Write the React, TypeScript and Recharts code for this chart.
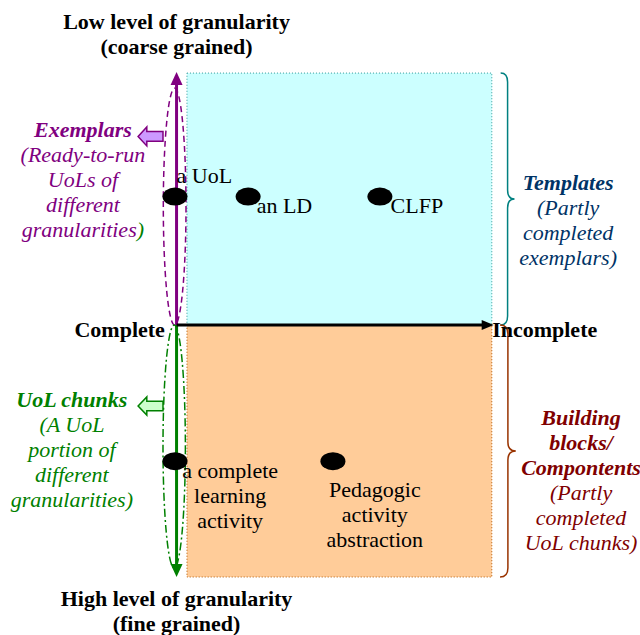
import React from 'react';
import { ScatterChart, Scatter, XAxis, YAxis, ReferenceArea, ReferenceLine } from 'recharts';

// x = completeness (0 complete -> 100 incomplete), y = granularity (+100 coarse, -100 fine)
const X_DOMAIN: [number, number] = [-56, 147];
const Y_DOMAIN: [number, number] = [-123, 129];

const pointNames = ['a UoL', 'an LD', 'CLFP', 'a complete learning activity', 'Pedagogic activity abstraction'];
const pointCompleteness = [-0.5, 22.7, 64.5, -0.5, 49.6];
const pointGranularity = [51, 51, 51, -54, -54];

const titleTop = ['Low level of granularity', '(coarse grained)'];
const titleBottom = ['High level of granularity', '(fine grained)'];
const exemplarText = ['Exemplars', '(Ready-to-run', 'UoLs of', 'different', 'granularities)'];
const chunkText = ['UoL chunks', '(A UoL', 'portion of', 'different', 'granularities)'];
const templateText = ['Templates', '(Partly', 'completed', 'exemplars)'];
const componentText = ['Building', 'blocks/', 'Compontents', '(Partly', 'completed', 'UoL chunks)'];
const pointLabelLines = [['a UoL'], ['an LD'], ['CLFP'], ['a complete', 'learning', 'activity'], ['Pedagogic', 'activity', 'abstraction']];

const FONT = 'Liberation Serif';
const LINE = 25;

type Note = {
  lines: string[];
  x: number;
  y: number;
  anchor: 'start' | 'middle' | 'end';
  color: string;
  bold: number;
  italic?: boolean;
  tailColor?: string;
};

const notes: Note[] = [
  { lines: titleTop, x: 0, y: 117.5, anchor: 'middle', color: '#000', bold: 2 },
  { lines: titleBottom, x: 0, y: -111.5, anchor: 'middle', color: '#000', bold: 2 },
  { lines: ['Complete'], x: -3.7, y: -4.7, anchor: 'end', color: '#000', bold: 1 },
  { lines: ['Incomplete'], x: 100.1, y: -4.7, anchor: 'start', color: '#000', bold: 1 },
  { lines: exemplarText, x: -29.7, y: 74.6, anchor: 'middle', color: '#800080', bold: 1, italic: true, tailColor: '#008000' },
  { lines: chunkText, x: -33.2, y: -32.5, anchor: 'middle', color: '#008000', bold: 1, italic: true },
  { lines: templateText, x: 124.2, y: 53.6, anchor: 'middle', color: '#003366', bold: 1, italic: true },
  { lines: componentText, x: 128.3, y: -39.6, anchor: 'middle', color: '#800000', bold: 3, italic: true },
  { lines: pointLabelLines[0], x: 0, y: 56.4, anchor: 'start', color: '#000', bold: 0 },
  { lines: pointLabelLines[1], x: 25.4, y: 44.5, anchor: 'start', color: '#000', bold: 0 },
  { lines: pointLabelLines[2], x: 67.9, y: 44.5, anchor: 'start', color: '#000', bold: 0 },
  { lines: pointLabelLines[3], x: 17, y: -60.7, anchor: 'middle', color: '#000', bold: 0 },
  { lines: pointLabelLines[4], x: 62.9, y: -68.2, anchor: 'middle', color: '#000', bold: 0 },
];

const points = pointNames.map((name, i) => ({ name, x: pointCompleteness[i], y: pointGranularity[i] }));
const noteData = notes.map((n) => ({ x: n.x, y: n.y, note: n }));

const renderNote = (props: any) => {
  const { cx, cy, payload } = props;
  const n: Note = payload.note;
  return (
    <text x={cx} y={cy} textAnchor={n.anchor} fontFamily={FONT} fontSize={22} fill={n.color} fontStyle={n.italic ? 'italic' : 'normal'}>
      {n.lines.map((line, i) => {
        const last = i === n.lines.length - 1 && n.tailColor;
        return (
          <tspan key={i} x={cx} dy={i === 0 ? 0 : LINE} fontWeight={i < n.bold ? 'bold' : 'normal'}>
            {last ? line.slice(0, -1) : line}
            {last ? <tspan fill={n.tailColor}>{line.slice(-1)}</tspan> : null}
          </tspan>
        );
      })}
    </text>
  );
};

const renderDot = (props: any) => <ellipse cx={props.cx} cy={props.cy} rx={12.5} ry={9} fill="#000" />;

const arrowShape = (color: string, width: number, head: number, half: number) => (p: any) => {
  const { x1, y1, x2, y2 } = p;
  const len = Math.hypot(x2 - x1, y2 - y1) || 1;
  const ux = (x2 - x1) / len;
  const uy = (y2 - y1) / len;
  const bx = x2 - ux * head;
  const by = y2 - uy * head;
  return (
    <g>
      <line x1={x1} y1={y1} x2={bx + ux} y2={by + uy} stroke={color} strokeWidth={width} />
      <polygon points={`${x2},${y2} ${bx - uy * half},${by + ux * half} ${bx + uy * half},${by - ux * half}`} fill={color} />
    </g>
  );
};

const ellipseShape = (color: string, dash: string) => (p: any) => (
  <ellipse cx={p.x + p.width / 2} cy={p.y + p.height / 2} rx={p.width / 2} ry={p.height / 2} fill="none" stroke={color} strokeWidth={1.5} strokeDasharray={dash} />
);

const braceShape = (color: string) => (p: any) => {
  const { x, y, width: w, height: h } = p;
  const mx = x + w * 0.5;
  const my = y + h / 2;
  const r = 9;
  const d = `M${x},${y} Q${mx},${y} ${mx},${y + r} L${mx},${my - r} Q${mx},${my} ${x + w},${my} Q${mx},${my} ${mx},${my + r} L${mx},${y + h - r} Q${mx},${y + h} ${x},${y + h}`;
  return <path d={d} fill="none" stroke={color} strokeWidth={1.5} />;
};

const blockArrowShape = (stroke: string, fill: string) => (p: any) => {
  const { x, y, width: w, height: h } = p;
  const hx = x + w * 0.35;
  const pts = [
    [x, y + h / 2], [hx, y], [hx, y + h * 0.24], [x + w, y + h * 0.24],
    [x + w, y + h * 0.76], [hx, y + h * 0.76], [hx, y + h],
  ];
  return <polygon points={pts.map((q) => q.join(',')).join(' ')} fill={fill} stroke={stroke} strokeWidth={1.5} />;
};

export default function App() {
  return (
    <div style={{ position: 'absolute', left: 0, top: 0, background: '#fff' }}>
      <ScatterChart width={640} height={635} margin={{ top: 0, right: 0, bottom: 0, left: 0 }}>
        <XAxis type="number" dataKey="x" domain={X_DOMAIN} hide />
        <YAxis type="number" dataKey="y" domain={Y_DOMAIN} hide />

        <ReferenceArea x1={3.3} x2={100} y1={0} y2={100} fill="#CCFFFF" fillOpacity={1} stroke="#339999" strokeDasharray="1 2" />
        <ReferenceArea x1={3.3} x2={100} y1={-100} y2={0} fill="#FFCC99" fillOpacity={1} stroke="#B35900" strokeDasharray="1 2" />

        <ReferenceArea x1={-4.2} x2={3.0} y1={0} y2={94} shape={ellipseShape('#800080', '6 4')} />
        <ReferenceArea x1={-4.3} x2={2.8} y1={-96.4} y2={0} shape={ellipseShape('#008000', '8 3 2 3')} />

        <ReferenceLine segment={[{ x: 0, y: 0 }, { x: 0, y: 100.4 }]} shape={arrowShape('#800080', 3, 13, 6)} />
        <ReferenceLine segment={[{ x: 0, y: 0 }, { x: 0, y: -100 }]} shape={arrowShape('#008000', 3, 13, 6)} />
        <ReferenceLine segment={[{ x: 0, y: 0 }, { x: 100.6, y: 0 }]} shape={arrowShape('#000000', 3, 12, 5)} />

        <ReferenceArea x1={-12.2} x2={-4.3} y1={71.1} y2={78.6} shape={blockArrowShape('#800080', '#CC99FF')} />
        <ReferenceArea x1={-12.2} x2={-4.3} y1={-35.7} y2={-28.5} shape={blockArrowShape('#008000', '#CCFFCC')} />

        <ReferenceArea x1={102.8} x2={107.2} y1={0} y2={100} shape={braceShape('#008080')} />
        <ReferenceArea x1={102.6} x2={107.6} y1={-100} y2={0} shape={braceShape('#993300')} />

        <Scatter data={points} shape={renderDot} isAnimationActive={false} />
        <Scatter data={noteData} shape={renderNote} isAnimationActive={false} />
      </ScatterChart>
    </div>
  );
}
